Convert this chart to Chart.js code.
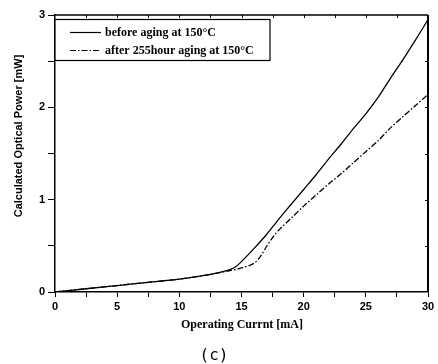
<!DOCTYPE html>
<html>
<head>
<meta charset="utf-8">
<script src="https://cdn.jsdelivr.net/npm/chart.js@4.4.1/dist/chart.umd.min.js"></script>
<style>
  html, body { margin: 0; padding: 0; background: #fff; }
  #wrap { position: relative; width: 438px; height: 364px; }
</style>
</head>
<body>
<div id="wrap"><canvas id="c" width="438" height="364"></canvas></div>
<script>
// ---- data ----
const currentBefore = [0, 2.5, 5, 7.5, 10, 12.5, 14, 14.5, 15, 16, 17, 18, 19, 20, 21, 22, 23, 24, 25, 26, 27, 28, 29, 30];
const powerBefore   = [0, 0.035, 0.07, 0.105, 0.14, 0.19, 0.24, 0.27, 0.33, 0.47, 0.62, 0.79, 0.95, 1.11, 1.27, 1.44, 1.60, 1.77, 1.93, 2.11, 2.32, 2.52, 2.73, 2.95];
const currentAfter  = [0, 2.5, 5, 7.5, 10, 12.5, 14, 15, 16, 16.5, 17, 17.5, 18, 19, 20, 21, 22, 23, 24, 25, 26, 27, 28, 29, 30];
const powerAfter    = [0, 0.035, 0.07, 0.105, 0.14, 0.19, 0.23, 0.26, 0.31, 0.38, 0.49, 0.59, 0.67, 0.80, 0.93, 1.05, 1.17, 1.28, 1.40, 1.52, 1.64, 1.78, 1.90, 2.02, 2.14];
const seriesLabels  = ["before aging at 150°C", "after 255hour aging at 150°C"];
const xTickLabels   = ["0", "5", "10", "15", "20", "25", "30"];
const yTickLabels   = ["0", "1", "2", "3"];
const xTitle = "Operating Currnt [mA]";
const yTitle = "Calculated Optical Power [mW]";
const caption = "(c)";

const toPts = (xs, ys) => xs.map((x, i) => ({ x, y: ys[i] }));

const dashPattern = [6, 2, 1.5, 2];

const decorPlugin = {
  id: 'decor',
  afterDraw(chart) {
    const { ctx, chartArea: a, scales } = chart;
    const xs = scales.x, ys = scales.y;
    ctx.save();
    // frame top and right
    ctx.strokeStyle = '#000';
    ctx.lineWidth = 1.5;
    ctx.beginPath();
    ctx.moveTo(a.left, a.top); ctx.lineTo(a.right, a.top);
    ctx.stroke();
    ctx.lineWidth = 2;
    ctx.beginPath();
    ctx.moveTo(a.right, a.top); ctx.lineTo(a.right, a.bottom);
    ctx.stroke();
    // inward ticks on right and top
    ctx.lineWidth = 1;
    for (let v = 0.5; v < 3; v += 0.5) {
      const py = Math.round(ys.getPixelForValue(v)) + 0.5;
      ctx.beginPath(); ctx.moveTo(a.right, py); ctx.lineTo(a.right - 3, py); ctx.stroke();
    }
    for (let v = 2.5; v < 30; v += 2.5) {
      const px = Math.round(xs.getPixelForValue(v)) + 0.5;
      ctx.beginPath(); ctx.moveTo(px, a.top); ctx.lineTo(px, a.top + 3); ctx.stroke();
    }
    // legend box
    const lx = a.left, ly = 19, lw = 270 - a.left, lh = 41;
    ctx.fillStyle = '#fff';
    ctx.fillRect(lx, ly, lw, lh);
    ctx.lineWidth = 1.2;
    ctx.strokeRect(lx, ly + 0.5, lw, lh);
    const rows = [32, 50];
    chart.data.datasets.forEach((ds, i) => {
      ctx.lineWidth = 1.2;
      ctx.setLineDash(ds.borderDash || []);
      ctx.beginPath(); ctx.moveTo(70, rows[i] + 0.5); ctx.lineTo(101, rows[i] + 0.5); ctx.stroke();
      ctx.setLineDash([]);
      ctx.fillStyle = '#000';
      ctx.font = 'bold 12px "Liberation Serif", "Times New Roman", serif';
      ctx.textAlign = 'left'; ctx.textBaseline = 'middle';
      ctx.fillText(ds.label, 105, rows[i] + 1);
    });
    // axis titles
    ctx.fillStyle = '#000';
    ctx.font = 'bold 12px "Liberation Serif", "Times New Roman", serif';
    ctx.textAlign = 'center'; ctx.textBaseline = 'middle';
    ctx.fillText(xTitle, 242, 325);
    ctx.save();
    ctx.translate(19, 136);
    ctx.rotate(-Math.PI / 2);
    ctx.font = 'bold 11px "Liberation Sans", Arial, sans-serif';
    ctx.fillText(yTitle, 0, 0);
    ctx.restore();
    ctx.font = '16px "DejaVu Sans Mono", monospace';
    ctx.fillText(caption, 214, 356);
    ctx.restore();
  }
};

new Chart(document.getElementById('c'), {
  type: 'line',
  data: {
    datasets: [
      { label: seriesLabels[0], data: toPts(currentBefore, powerBefore), borderColor: '#000', borderWidth: 1.3, pointRadius: 0, tension: 0.3, fill: false },
      { label: seriesLabels[1], data: toPts(currentAfter, powerAfter), borderColor: '#000', borderWidth: 1.3, borderDash: dashPattern, pointRadius: 0, tension: 0.3, fill: false }
    ]
  },
  options: {
    responsive: false,
    animation: false,
    devicePixelRatio: 1,
    layout: { padding: { left: 0, right: 10, top: 15, bottom: 0 } },
    plugins: { legend: { display: false }, tooltip: { enabled: false } },
    scales: {
      x: {
        type: 'linear', min: 0, max: 30,
        afterFit: s => { s.height = 72; },
        border: { display: true, color: '#000', width: 1.5 },
        grid: { drawOnChartArea: false, drawTicks: true, tickLength: 5, color: '#000', lineWidth: 1 },
        ticks: {
          stepSize: 2.5, autoSkip: false, maxRotation: 0, padding: 3, color: '#000',
          font: { family: '"Liberation Sans", Arial, sans-serif', size: 11, weight: 'bold' },
          callback: v => (v % 5 === 0 ? xTickLabels[v / 5] : '')
        }
      },
      y: {
        type: 'linear', min: 0, max: 3,
        afterFit: s => { s.width = 55; },
        border: { display: true, color: '#000', width: 1.5 },
        grid: { drawOnChartArea: false, drawTicks: true, tickLength: 7, color: '#000', lineWidth: 1 },
        ticks: {
          stepSize: 0.5, autoSkip: false, padding: 3, color: '#000',
          font: { family: '"Liberation Sans", Arial, sans-serif', size: 11, weight: 'bold' },
          callback: v => (Number.isInteger(v) ? yTickLabels[v] : '')
        }
      }
    }
  },
  plugins: [decorPlugin]
});
</script>
</body>
</html>
